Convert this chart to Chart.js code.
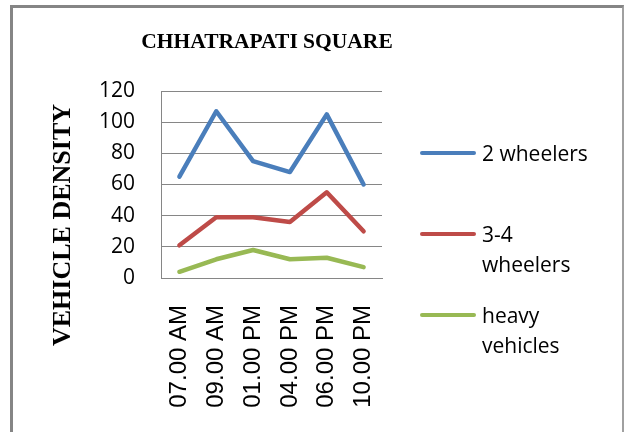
<!DOCTYPE html>
<html>
<head>
<meta charset="utf-8">
<script src="https://cdn.jsdelivr.net/npm/chart.js@4.4.0/dist/chart.umd.min.js"></script>
<style>
  body { margin: 0; background: #fff; }
  #wrap { position: relative; width: 628px; height: 432px; overflow: hidden; }
  #frame {
    position: absolute; left: 10px; top: 5px; width: 609px; height: 440px;
    border-left: 3px solid #858585; border-top: 3px solid #858585; border-right: 2px solid #a0a0a0;
  }
  #chart { position: absolute; left: 0; top: 0; }
  #title {
    position: absolute; left: 267px; top: 30px; transform: translateX(-50%);
    font: bold 21.5px "Liberation Serif", "Times New Roman", serif; line-height: 22px;
    white-space: nowrap; color: #000;
  }
  #ytitle {
    position: absolute; left: 62px; top: 225px; transform: translate(-50%, -50%) rotate(-90deg);
    font: bold 26px "Liberation Serif", "Times New Roman", serif; line-height: 26px;
    white-space: nowrap; color: #000;
  }
  #legend { position: absolute; left: 420px; top: 138px; }
  .item { position: relative; height: 81px; }
  .swatch { position: absolute; left: 0; top: 13px; width: 56px; height: 4px; border-radius: 2px; }
  .txt {
    position: absolute; left: 62px; top: 0; width: 112px;
    font: 21px "Open Sans", sans-serif; line-height: 30px; color: #000;
  }
</style>
</head>
<body>
<div id="wrap">
  <div id="frame"></div>
  <canvas id="chart" width="628" height="432"></canvas>
  <div id="title">CHHATRAPATI SQUARE</div>
  <div id="ytitle">VEHICLE DENSITY</div>
  <div id="legend"></div>
</div>
<script>
// Data
const timeLabels = ['07.00 AM', '09.00 AM', '01.00 PM', '04.00 PM', '06.00 PM', '10.00 PM'];
const twoWheelers = [65, 107, 75, 68, 105, 60];
const threeFourWheelers = [21, 39, 39, 36, 55, 30];
const heavyVehicles = [4, 12, 18, 12, 13, 7];
const seriesNames = ['2 wheelers', '3-4 wheelers', 'heavy vehicles'];
const seriesColors = ['#4a7ebb', '#be4b48', '#98b954'];
const yTicks = [0, 20, 40, 60, 80, 100, 120];

const seriesData = [twoWheelers, threeFourWheelers, heavyVehicles];

const datasets = seriesData.map((vals, i) => ({
    label: seriesNames[i],
    data: vals,
    borderColor: seriesColors[i],
    backgroundColor: seriesColors[i],
    borderWidth: 4.5,
    pointRadius: 0,
    tension: 0,
    borderJoinStyle: 'round',
    borderCapStyle: 'round',
    fill: false
}));

var ctx = document.getElementById('chart').getContext('2d');
var chart = new Chart(ctx, {
    type: 'line',
    data: { labels: timeLabels, datasets: datasets },
    options: {
        responsive: false,
        animation: false,
        layout: { padding: { left: 0, right: 246, top: 91, bottom: 0 } },
        plugins: {
            legend: { display: false },
            title: { display: false },
            tooltip: { enabled: false }
        },
        scales: {
            x: {
                type: 'category',
                offset: true,
                grid: { display: false, drawTicks: false },
                border: { display: true, color: '#868686', width: 1 },
                ticks: {
                    autoSkip: false,
                    minRotation: 90,
                    maxRotation: 90,
                    padding: 27,
                    color: '#000',
                    font: { family: '"Liberation Sans", Arial, sans-serif', size: 24 }
                },
                afterFit: function (scale) { scale.height = 432 - 91 - 187; }
            },
            y: {
                min: 0,
                max: 120,
                afterBuildTicks: function (scale) {
                    scale.ticks = yTicks.map(v => ({ value: v }));
                },
                grid: { color: '#868686', lineWidth: 1, drawTicks: false },
                border: { display: true, color: '#868686', width: 1 },
                ticks: {
                    padding: 26,
                    color: '#000',
                    font: { family: '"Open Sans", sans-serif', size: 21 }
                },
                afterFit: function (scale) { scale.width = 161; }
            }
        }
    }
});

// Legend built from the same series
const legend = document.getElementById('legend');
seriesNames.forEach((name, i) => {
    const item = document.createElement('div');
    item.className = 'item';
    const sw = document.createElement('div');
    sw.className = 'swatch';
    sw.style.background = seriesColors[i];
    const t = document.createElement('div');
    t.className = 'txt';
    t.textContent = name;
    item.appendChild(sw);
    item.appendChild(t);
    legend.appendChild(item);
});
</script>
</body>
</html>
